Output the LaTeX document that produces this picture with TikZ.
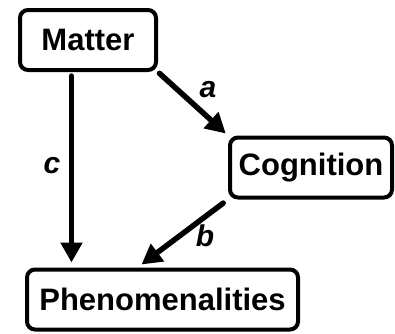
\documentclass[tikz,border=0pt]{standalone}
\usepackage{fontspec}
\setmainfont{Liberation Sans}
\usetikzlibrary{arrows.meta}
\begin{document}
\begin{tikzpicture}[x=1pt,y=-1pt,line cap=round,
  box/.style={draw,line width=4pt,rounded corners=8pt,minimum height=60pt,
    inner sep=0pt,font=\fontsize{31}{31}\selectfont\bfseries},
  arr/.style={line width=5.5pt,-{Triangle[length=20pt,width=21pt]}},
  lab/.style={font=\fontsize{30}{30}\selectfont\bfseries\itshape}]
\useasboundingbox (0,0) rectangle (395,333);
% boxes
\node[box,minimum width=136pt] (matter) at (88,40) {Matter};
\node[box,minimum width=162pt] (cog) at (311,167.5) {Cognition};
\node[box,minimum width=271pt] (phen) at (162.5,299.5) {Phenomenalities};
% arrows
\draw[arr,shorten <=4pt,shorten >=5pt] ([xshift=-16.5pt]matter.south) -- ([xshift=-16.5pt]matter.south |- phen.north);
\draw[arr,shorten <=2pt,shorten >=3pt] (matter.south east) -- (cog.north west);
\draw[arr,shorten <=6pt,shorten >=5pt] (cog.south west) -- ([xshift=-25pt]phen.north);
% labels
\node[lab] (la) at (208,90) {a};
\node[lab] (lc) at (52,166) {c};
\node[lab] (lb) at (205,236) {b};
\end{tikzpicture}
\end{document}
